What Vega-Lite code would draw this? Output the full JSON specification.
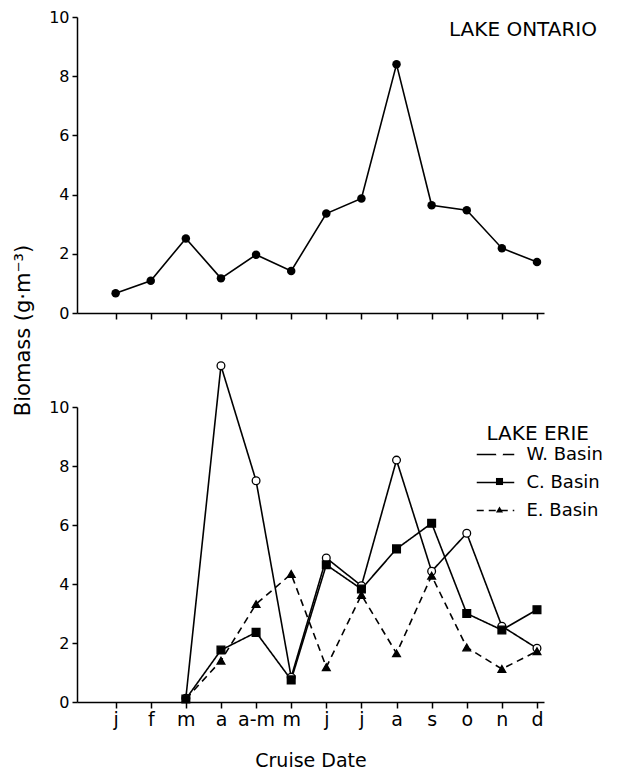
{
  "$schema": "https://vega.github.io/schema/vega-lite/v6.json",
  "background": "white",
  "padding": {"left": 11, "top": 9, "right": 5, "bottom": 5},
  "config": {
    "font": "DejaVu Sans",
    "view": {"stroke": null},
    "axis": {
      "grid": false,
      "domainColor": "black",
      "domainWidth": 1.5,
      "tickColor": "black",
      "tickWidth": 1.5,
      "labelColor": "black",
      "titleColor": "black",
      "labelFont": "DejaVu Sans",
      "titleFont": "DejaVu Sans",
      "titleFontWeight": "normal"
    },
    "legend": {
      "labelFont": "DejaVu Sans",
      "titleFont": "DejaVu Sans",
      "labelColor": "black",
      "titleColor": "black"
    }
  },
  "datasets": {
    "ontario": [
      {"idx": 1, "month": "j", "biomass": 0.67},
      {"idx": 2, "month": "f", "biomass": 1.09},
      {"idx": 3, "month": "m", "biomass": 2.52},
      {"idx": 4, "month": "a", "biomass": 1.17},
      {"idx": 5, "month": "a-m", "biomass": 1.97},
      {"idx": 6, "month": "m", "biomass": 1.42},
      {"idx": 7, "month": "j", "biomass": 3.36},
      {"idx": 8, "month": "j", "biomass": 3.87},
      {"idx": 9, "month": "a", "biomass": 8.4},
      {"idx": 10, "month": "s", "biomass": 3.64},
      {"idx": 11, "month": "o", "biomass": 3.47},
      {"idx": 12, "month": "n", "biomass": 2.19},
      {"idx": 13, "month": "d", "biomass": 1.72}
    ],
    "erie": [
      {"idx": 3, "month": "m", "basin": "W. Basin", "biomass": 0.13},
      {"idx": 4, "month": "a", "basin": "W. Basin", "biomass": 11.4},
      {"idx": 5, "month": "a-m", "basin": "W. Basin", "biomass": 7.5},
      {"idx": 6, "month": "m", "basin": "W. Basin", "biomass": 0.84},
      {"idx": 7, "month": "j", "basin": "W. Basin", "biomass": 4.88},
      {"idx": 8, "month": "j", "basin": "W. Basin", "biomass": 3.94},
      {"idx": 9, "month": "a", "basin": "W. Basin", "biomass": 8.2},
      {"idx": 10, "month": "s", "basin": "W. Basin", "biomass": 4.43},
      {"idx": 11, "month": "o", "basin": "W. Basin", "biomass": 5.72},
      {"idx": 12, "month": "n", "basin": "W. Basin", "biomass": 2.57},
      {"idx": 13, "month": "d", "basin": "W. Basin", "biomass": 1.82},
      {"idx": 3, "month": "m", "basin": "C. Basin", "biomass": 0.1},
      {"idx": 4, "month": "a", "basin": "C. Basin", "biomass": 1.76},
      {"idx": 5, "month": "a-m", "basin": "C. Basin", "biomass": 2.36},
      {"idx": 6, "month": "m", "basin": "C. Basin", "biomass": 0.75},
      {"idx": 7, "month": "j", "basin": "C. Basin", "biomass": 4.65},
      {"idx": 8, "month": "j", "basin": "C. Basin", "biomass": 3.83},
      {"idx": 9, "month": "a", "basin": "C. Basin", "biomass": 5.19},
      {"idx": 10, "month": "s", "basin": "C. Basin", "biomass": 6.06},
      {"idx": 11, "month": "o", "basin": "C. Basin", "biomass": 3.0},
      {"idx": 12, "month": "n", "basin": "C. Basin", "biomass": 2.44},
      {"idx": 13, "month": "d", "basin": "C. Basin", "biomass": 3.13},
      {"idx": 3, "month": "m", "basin": "E. Basin", "biomass": 0.1},
      {"idx": 4, "month": "a", "basin": "E. Basin", "biomass": 1.4},
      {"idx": 5, "month": "a-m", "basin": "E. Basin", "biomass": 3.32},
      {"idx": 6, "month": "m", "basin": "E. Basin", "biomass": 4.34},
      {"idx": 7, "month": "j", "basin": "E. Basin", "biomass": 1.18},
      {"idx": 8, "month": "j", "basin": "E. Basin", "biomass": 3.63},
      {"idx": 9, "month": "a", "basin": "E. Basin", "biomass": 1.65},
      {"idx": 10, "month": "s", "basin": "E. Basin", "biomass": 4.28},
      {"idx": 11, "month": "o", "basin": "E. Basin", "biomass": 1.85},
      {"idx": 12, "month": "n", "basin": "E. Basin", "biomass": 1.12},
      {"idx": 13, "month": "d", "basin": "E. Basin", "biomass": 1.72}
    ]
  },
  "bounds": "flush",
  "spacing": 94,
  "vconcat": [
    {
      "width": 467,
      "height": 296,
      "data": {"name": "ontario"},
      "title": {
        "text": "LAKE  ONTARIO",
        "anchor": "end",
        "frame": "group",
        "font": "DejaVu Sans",
        "fontSize": 20,
        "fontWeight": "normal",
        "color": "black",
        "baseline": "middle",
        "offset": 0,
        "dx": 53,
        "dy": 41
      },
      "encoding": {
        "x": {
          "field": "idx",
          "type": "quantitative",
          "scale": {"domain": [-0.1, 13.2], "nice": false, "zero": false},
          "axis": {"values": [1, 2, 3, 4, 5, 6, 7, 8, 9, 10, 11, 12, 13], "labels": false, "title": null, "tickSize": 6}
        },
        "y": {
          "field": "biomass",
          "type": "quantitative",
          "scale": {"domain": [0, 10], "nice": false},
          "axis": {"values": [0, 2, 4, 6, 8, 10], "title": null, "labelFontSize": 16, "tickSize": 5, "labelPadding": 3}
        }
      },
      "layer": [
        {"mark": {"type": "line", "color": "black", "strokeWidth": 1.6}},
        {"mark": {"type": "point", "filled": true, "color": "black", "size": 72, "opacity": 1}}
      ]
    },
    {
      "width": 467,
      "height": 295,
      "data": {"name": "erie"},
      "encoding": {
        "x": {
          "field": "idx",
          "type": "quantitative",
          "scale": {"domain": [-0.1, 13.2], "nice": false, "zero": false},
          "axis": {
            "values": [1, 2, 3, 4, 5, 6, 7, 8, 9, 10, 11, 12, 13],
            "labelExpr": "['','j','f','m','a','a-m','m','j','j','a','s','o','n','d'][datum.value]",
            "title": "Cruise Date",
            "labelFontSize": 19,
            "titleFontSize": 19,
            "tickSize": 6,
            "labelPadding": 2,
            "titlePadding": 22
          }
        },
        "y": {
          "field": "biomass",
          "type": "quantitative",
          "scale": {"domain": [0, 10], "nice": false},
          "axis": {
            "values": [0, 2, 4, 6, 8, 10],
            "labelFontSize": 16,
            "tickSize": 5,
            "labelPadding": 3,
            "title": "Biomass  (g·m⁻³)",
            "titleFontSize": 21,
            "titleAngle": -90,
            "titleAlign": "center",
            "titleBaseline": "middle",
            "titleX": -54,
            "titleY": -77
          }
        }
      },
      "layer": [
        {
          "mark": {"type": "line", "color": "black", "strokeWidth": 1.6},
          "encoding": {
            "strokeDash": {
              "field": "basin",
              "type": "nominal",
              "sort": ["W. Basin", "C. Basin", "E. Basin"],
              "scale": {"range": [[1, 0], [1, 0], [7, 5]]},
              "legend": {
                "title": "LAKE  ERIE",
                "orient": "none",
                "legendX": 409.5,
                "legendY": 406.5,
                "padding": 0,
                "symbolType": "M-2.5,0H2.5",
                "symbolSize": 225,
                "symbolStrokeColor": "black",
                "symbolStrokeWidth": 1.5,
                "labelFontSize": 18,
                "labelOffset": 22,
                "rowPadding": 10,
                "titleFontSize": 20,
                "titleFontWeight": "normal",
                "titlePadding": 2
              }
            }
          }
        },
        {
          "mark": {"type": "point", "filled": true, "stroke": "black", "strokeWidth": 1.3, "size": 60, "opacity": 1},
          "encoding": {
            "shape": {
              "field": "basin",
              "type": "nominal",
              "scale": {"domain": ["W. Basin", "C. Basin", "E. Basin"], "range": ["circle", "square", "triangle-up"]},
              "legend": {
                "title": null,
                "orient": "none",
                "legendX": 413.5,
                "legendY": 427.5,
                "padding": 0,
                "symbolSize": 50,
                "symbolStrokeColor": "black",
                "symbolStrokeWidth": 1.2,
                "labelFontSize": 18,
                "labelExpr": "''",
                "rowPadding": 10,
                "encode": {
                  "symbols": {
                    "stroke": {"value": "black"},
                    "strokeWidth": {"value": 1.2}
                  }
                }
              }
            },
            "fill": {
              "field": "basin",
              "type": "nominal",
              "scale": {"domain": ["W. Basin", "C. Basin", "E. Basin"], "range": ["white", "black", "black"]},
              "legend": {
                "title": null,
                "orient": "none",
                "legendX": 413.5,
                "legendY": 427.5,
                "padding": 0,
                "symbolSize": 50,
                "symbolStrokeColor": "black",
                "symbolStrokeWidth": 1.2,
                "labelFontSize": 18,
                "labelExpr": "''",
                "rowPadding": 10,
                "encode": {
                  "symbols": {
                    "stroke": {"value": "black"},
                    "strokeWidth": {"value": 1.2}
                  }
                }
              }
            }
          }
        }
      ]
    }
  ]
}
